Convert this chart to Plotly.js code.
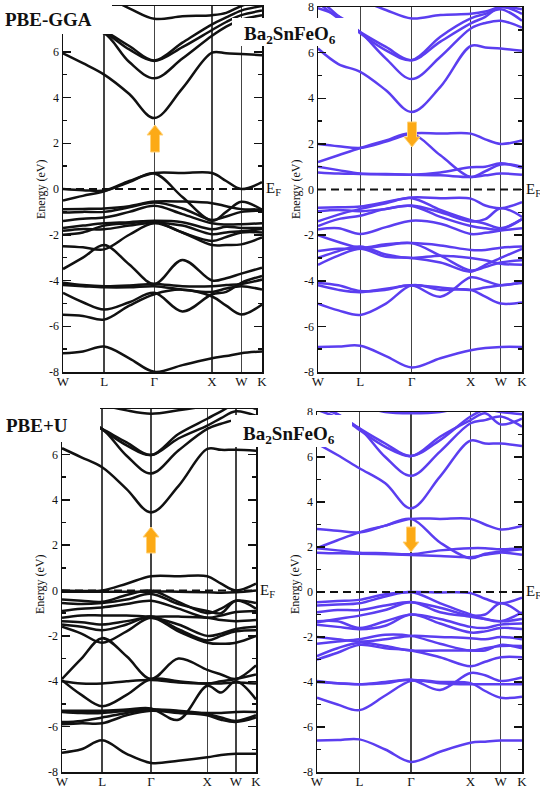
<!DOCTYPE html>
<html>
<head>
<meta charset="utf-8">
<script src="https://cdn.plot.ly/plotly-3.0.1.min.js"></script>
<style>
html,body{margin:0;padding:0;background:#fff;}
#chart{width:540px;height:789px;}
</style>
</head>
<body>
<div id="chart"></div>
<script>
// ---------------- DATA ----------------
const kLabels = ['W', 'L', 'Γ', 'X', 'W', 'K'];
const kTicks = [0, 0.207, 0.459, 0.749, 0.896, 1.0];
// k-points at which band energies were read: W, mid, L, mid, Γ, mid, X, mid, W, K
const kPath = [0, 0.10, 0.207, 0.333, 0.459, 0.60, 0.749, 0.82, 0.896, 1.0];
const energyTicks = [-8, -6, -4, -2, 0, 2, 4, 6, 8];
const energyTickText = ['-8', '-6', '-4', '-2', '0', '2', '4', '6', '8'];
const minorTicks = [-7, -5, -3, -1, 1, 3, 5, 7];

// PBE-GGA, spin up (black)
const ggaUp = [
  [5.93, 5.5, 5.0, 4.15, 3.1, 4.4, 5.96, 5.93, 5.9, 5.85],
  [6.9, 6.88, 6.8, 5.55, 4.84, 5.7, 6.7, 7.1, 7.4, 7.6],
  [7.4, 7.1, 6.85, 6.1, 5.6, 6.2, 6.95, 7.3, 7.6, 7.8],
  [7.5, 7.2, 6.9, 6.25, 5.62, 6.4, 7.2, 7.5, 7.8, 8.0],
  [8.6, 8.5, 8.4, 7.9, 7.44, 7.55, 7.6, 7.7, 8.0, 8.3],
  [0.0, -0.05, -0.07, 0.35, 0.70, 0.70, 0.70, 0.35, 0.0, 0.3],
  [-0.5, -0.3, -0.1, 0.3, 0.68, -0.35, -1.39, -1.0, -0.56, -0.9],
  [-0.88, -0.87, -0.85, -0.75, -0.55, -0.55, -0.62, -0.75, -0.88, -0.88],
  [-1.03, -1.0, -1.0, -0.8, -0.59, -0.85, -1.35, -1.2, -1.0, -0.95],
  [-1.4, -1.3, -1.25, -1.0, -0.73, -1.1, -1.5, -1.55, -1.54, -1.5],
  [-1.7, -1.6, -1.5, -1.45, -1.39, -1.45, -1.76, -1.65, -1.7, -1.7],
  [-1.83, -1.75, -1.76, -1.6, -1.47, -1.6, -1.98, -1.9, -1.85, -1.75],
  [-2.0, -1.9, -1.6, -1.5, -1.42, -1.9, -2.27, -2.1, -1.9, -1.9],
  [-2.5, -2.55, -2.64, -2.0, -1.5, -1.9, -2.45, -2.45, -2.42, -2.12],
  [-3.5, -3.0, -2.45, -3.3, -4.15, -3.1, -4.0, -3.9, -3.7, -3.44],
  [-4.1, -4.2, -4.25, -4.22, -4.15, -4.25, -4.25, -4.2, -4.15, -3.96],
  [-4.2, -4.25, -4.3, -4.3, -4.25, -4.4, -4.5, -4.35, -4.25, -4.4],
  [-4.54, -4.95, -5.27, -4.95, -4.54, -5.35, -4.6, -4.5, -4.1, -3.8],
  [-5.5, -5.55, -5.71, -5.1, -4.6, -4.4, -4.7, -5.1, -5.49, -5.05],
  [-7.18, -7.1, -6.89, -7.4, -7.99, -7.7, -7.4, -7.3, -7.18, -7.1]
];

// PBE-GGA, spin down (purple)
const ggaDown = [
  [6.18, 5.5, 5.16, 4.35, 3.4, 4.5, 6.29, 6.23, 6.18, 6.08],
  [7.95, 7.6, 6.9, 5.74, 4.84, 5.82, 7.06, 7.3, 7.4, 7.1],
  [8.2, 7.5, 6.9, 6.25, 5.67, 6.48, 7.28, 7.57, 8.0, 7.7],
  [8.4, 7.6, 6.85, 6.1, 5.67, 6.7, 7.5, 7.7, 7.9, 7.4],
  [8.8, 8.6, 8.3, 7.87, 7.5, 7.65, 7.7, 7.8, 8.0, 7.9],
  [2.0, 1.9, 1.82, 2.1, 2.45, 2.45, 2.45, 2.2, 2.0, 2.15],
  [1.2, 1.5, 1.82, 2.15, 2.45, 1.5, 0.55, 0.8, 1.1, 1.0],
  [1.0, 0.85, 0.7, 0.68, 0.65, 0.75, 0.98, 1.0, 1.15, 0.95],
  [0.75, 0.7, 0.68, 0.66, 0.65, 0.62, 0.55, 0.62, 0.7, 0.65],
  [-0.8, -0.78, -0.75, -0.55, -0.35, -0.38, -0.4, -0.7, -0.82, -0.55],
  [-1.4, -1.1, -0.85, -0.6, -0.38, -0.9, -1.35, -1.5, -1.7, -1.3],
  [-0.95, -0.9, -0.95, -0.85, -0.7, -1.0, -1.4, -1.3, -0.82, -1.2],
  [-1.6, -1.3, -1.15, -0.85, -0.72, -1.2, -1.6, -1.7, -1.75, -1.3],
  [-1.75, -1.7, -1.95, -1.65, -1.37, -1.5, -1.95, -1.9, -1.8, -1.7],
  [-2.0, -2.3, -2.55, -2.4, -2.35, -2.45, -2.65, -2.65, -2.55, -2.5],
  [-2.7, -2.6, -2.6, -2.45, -2.35, -2.9, -3.55, -3.4, -3.2, -3.1],
  [-3.0, -2.7, -2.5, -2.85, -3.0, -2.9, -3.0, -3.1, -3.25, -3.3],
  [-3.3, -2.9, -2.6, -2.95, -3.0, -3.2, -3.6, -3.3, -3.0, -2.6],
  [-4.2, -4.4, -4.5, -4.35, -4.2, -4.3, -4.4, -4.3, -4.2, -4.1],
  [-4.1, -4.2, -4.45, -4.4, -4.2, -4.7, -3.85, -4.0, -4.2, -4.05],
  [-5.0, -5.3, -5.5, -5.0, -4.2, -4.4, -4.4, -4.7, -5.0, -4.95],
  [-6.9, -6.88, -6.85, -7.3, -7.8, -7.4, -7.05, -6.95, -6.9, -6.9]
];

// PBE+U, spin up (black)
const uUp = [
  [6.27, 5.87, 5.43, 4.47, 3.44, 4.6, 6.24, 6.2, 6.2, 6.16],
  [7.8, 7.5, 7.12, 5.94, 5.16, 6.17, 7.12, 7.35, 7.5, 7.3],
  [8.1, 7.6, 7.12, 6.53, 5.97, 6.9, 7.57, 7.9, 8.2, 8.0],
  [8.2, 7.7, 7.1, 6.4, 5.97, 6.7, 7.27, 7.6, 7.9, 7.7],
  [8.8, 8.6, 8.2, 7.94, 7.79, 7.94, 8.15, 8.3, 8.5, 8.4],
  [0.0, -0.02, 0.0, 0.3, 0.63, 0.63, 0.63, 0.3, 0.0, 0.3],
  [-0.05, -0.05, -0.05, -0.05, -0.05, -0.05, -0.08, -0.1, -0.08, 0.0],
  [-0.4, -0.45, -0.5, -0.2, 0.0, -0.5, -1.0, -0.8, -0.45, -0.55],
  [-0.55, -0.6, -0.55, -0.4, -0.15, -0.6, -0.9, -1.0, -0.45, -0.8],
  [-0.9, -0.8, -0.75, -0.6, -0.45, -0.8, -1.2, -1.1, -0.95, -0.9],
  [-1.2, -1.1, -1.1, -1.1, -1.15, -1.15, -1.2, -1.3, -1.35, -1.3],
  [-1.35, -1.4, -1.5, -1.35, -1.2, -1.5, -2.0, -1.9, -1.7, -1.6],
  [-1.5, -1.6, -1.75, -1.5, -1.15, -1.7, -2.2, -2.0, -1.8, -1.75],
  [-1.6, -1.9, -2.3, -1.8, -1.2, -1.8, -2.3, -2.35, -2.3, -2.0],
  [-3.9, -3.0, -2.1, -2.9, -3.9, -3.0, -3.5, -3.7, -3.9, -3.3],
  [-3.95, -4.6, -5.1, -4.6, -3.9, -4.0, -4.1, -4.0, -3.9, -3.7],
  [-4.0, -4.1, -4.1, -4.0, -3.95, -4.05, -4.1, -4.1, -4.05, -4.1],
  [-5.3, -5.3, -5.3, -5.25, -5.2, -5.7, -4.2, -4.5, -4.0, -4.8],
  [-5.35, -5.4, -5.4, -5.3, -5.25, -5.35, -5.4, -5.4, -5.35, -5.35],
  [-5.8, -5.75, -5.6, -5.4, -5.25, -5.3, -5.45, -5.6, -5.75, -5.5],
  [-5.9, -5.85, -5.85, -5.5, -5.3, -5.4, -5.5, -5.7, -5.8, -5.6],
  [-7.15, -7.0, -6.6, -7.2, -7.6, -7.5, -7.35, -7.25, -7.2, -7.2]
];

// PBE+U, spin down (purple)
const uDown = [
  [6.6, 6.09, 5.5, 4.83, 3.72, 5.13, 6.73, 6.6, 6.6, 6.49],
  [8.1, 7.75, 7.27, 6.0, 5.17, 6.24, 7.5, 7.64, 7.8, 7.35],
  [8.2, 7.9, 7.27, 6.6, 6.04, 6.9, 7.64, 7.94, 7.45, 7.7],
  [8.4, 7.9, 7.2, 6.45, 6.04, 6.75, 7.8, 8.1, 8.0, 7.9],
  [9.0, 8.6, 8.3, 8.0, 7.94, 8.0, 8.3, 8.4, 8.5, 8.4],
  [2.8, 2.72, 2.65, 2.95, 3.25, 3.25, 3.25, 3.0, 2.78, 2.93],
  [1.95, 2.3, 2.65, 2.95, 3.25, 2.2, 1.5, 1.7, 1.8, 1.9],
  [1.95, 1.85, 1.75, 1.72, 1.68, 1.85, 1.95, 1.95, 1.9, 1.95],
  [1.75, 1.72, 1.7, 1.68, 1.65, 1.6, 1.55, 1.65, 1.75, 1.65],
  [-0.45, -0.4, -0.35, -0.1, 0.0, -0.02, -0.05, -0.3, -0.5, -0.25],
  [-0.6, -0.55, -0.5, -0.2, 0.0, -0.5, -1.0, -1.2, -1.3, -0.9],
  [-0.9, -0.8, -0.8, -0.6, -0.45, -0.7, -1.05, -1.0, -0.5, -1.0],
  [-1.35, -1.2, -1.05, -0.8, -0.45, -0.9, -1.1, -1.2, -1.3, -1.2],
  [-1.3, -1.3, -1.6, -1.3, -1.0, -1.2, -1.55, -1.6, -1.45, -1.4],
  [-1.45, -1.55, -1.65, -1.5, -1.0, -1.4, -1.8, -1.75, -1.6, -1.65],
  [-2.0, -2.1, -2.2, -2.1, -1.95, -2.0, -2.05, -2.1, -2.0, -2.1],
  [-2.3, -2.2, -2.1, -1.9, -1.95, -2.3, -2.6, -2.5, -2.4, -2.4],
  [-2.85, -2.5, -2.25, -2.4, -2.6, -2.6, -2.6, -2.6, -2.35, -2.5],
  [-3.0, -2.7, -2.35, -2.5, -2.6, -2.9, -3.3, -3.1, -2.9, -2.9],
  [-4.0, -4.05, -4.1, -4.0, -3.9, -4.05, -4.1, -4.1, -4.1, -4.1],
  [-3.95, -4.05, -4.1, -4.05, -3.9, -4.35, -3.6, -3.7, -3.95, -3.8],
  [-4.7, -5.0, -5.25, -4.6, -3.95, -4.0, -4.05, -4.4, -4.7, -4.65],
  [-6.6, -6.58, -6.55, -7.0, -7.55, -7.1, -6.7, -6.65, -6.6, -6.6]
];

// ---------------- LAYOUT HELPERS ----------------
const W = 540, H = 789;
const fx = p => p / W;
const fy = p => 1 - p / H;
const SERIF = 'Liberation Serif, Times New Roman, serif';
const BLACK = '#111111';
const PURPLE = '#5b3ef0';

const panels = [
  {bands: ggaUp,   color: BLACK,  xa: 'x',  ya: 'y',  box: [63, 262, 6, 372]},
  {bands: ggaDown, color: PURPLE, xa: 'x2', ya: 'y2', box: [318, 522, 7, 372]},
  {bands: uUp,     color: BLACK,  xa: 'x3', ya: 'y3', box: [62, 256, 409, 772]},
  {bands: uDown,   color: PURPLE, xa: 'x4', ya: 'y4', box: [317, 522, 412, 772]}
];

const traces = [];
panels.forEach(p => {
  p.bands.forEach(b => {
    traces.push({
      x: kPath, y: b, xaxis: p.xa, yaxis: p.ya,
      type: 'scatter', mode: 'lines',
      line: {color: p.color, width: 2.5, shape: 'spline', smoothing: 1},
      hoverinfo: 'skip', showlegend: false
    });
  });
});

const layout = {
  width: W, height: H,
  margin: {l: 0, r: 0, t: 0, b: 0},
  paper_bgcolor: '#fff', plot_bgcolor: '#fff',
  showlegend: false, hovermode: false,
  font: {family: SERIF, color: '#111', size: 12},
  shapes: [], annotations: []
};

panels.forEach((p, i) => {
  const n = i === 0 ? '' : String(i + 1);
  const [x0, x1, yt, yb] = p.box;
  layout['xaxis' + n] = {
    domain: [fx(x0), fx(x1)], range: [0, 1], anchor: p.ya,
    tickmode: 'array', tickvals: kTicks, ticktext: kLabels,
    ticks: '', showgrid: true, gridcolor: '#444', gridwidth: 1.4,
    zeroline: false, showline: true, linecolor: '#111', linewidth: 1.5,
    mirror: true, ticklabelstandoff: -3,
    tickfont: {family: SERIF, size: 13, color: '#111'}, fixedrange: true
  };
  layout['yaxis' + n] = {
    domain: [fy(yb), fy(yt)], range: [-8, 8], anchor: p.xa,
    tickmode: 'array', tickvals: energyTicks, ticktext: energyTickText,
    ticks: 'inside', ticklen: 8, tickwidth: 1.5, tickcolor: '#111',
    minor: {tickmode: 'array', tickvals: minorTicks, ticks: 'inside', ticklen: 4, tickwidth: 1.5, tickcolor: '#111'},
    showgrid: false, zeroline: false, showline: true, linecolor: '#111', linewidth: 1.5,
    mirror: 'ticks', tickfont: {family: SERIF, size: 12, color: '#111'}, fixedrange: true
  };
  // Fermi level dashed line
  layout.shapes.push({
    type: 'line', xref: p.xa, yref: p.ya, x0: 0, x1: 1, y0: 0, y1: 0,
    line: {color: '#111', width: 2, dash: '8px,5px'}, layer: 'above'
  });
  // E_F label
  layout.annotations.push({
    xref: 'paper', yref: p.ya, x: fx(x1 + 2), y: 0, xanchor: 'left', yanchor: 'middle',
    text: 'E<sub>F</sub>', showarrow: false, font: {family: SERIF, size: 15, color: '#111'}
  });
  // y title
  layout.annotations.push({
    xref: 'paper', yref: 'paper', x: fx(x0 - 22), y: fy(i < 2 ? 190 : 585),
    xanchor: 'center', yanchor: 'middle', textangle: -90,
    text: 'Energy (eV)', showarrow: false, font: {family: SERIF, size: 12, color: '#111'}
  });
});

// white label boxes covering the top-left of the panels
const boxes = [[0, 112, 0, 34], [232, 358, 18, 46], [0, 100, 398, 442], [231, 352, 415, 447]];
boxes.forEach(b => layout.shapes.push({
  type: 'rect', xref: 'paper', yref: 'paper', x0: fx(b[0]), x1: fx(b[1]), y0: fy(b[3]), y1: fy(b[2]),
  fillcolor: '#fff', line: {width: 0}, layer: 'above'
}));

// orange spin arrows (up = spin up panel, down = spin down panel)
function arrowPath(cx, yTip, yTail) {
  const dir = yTail > yTip ? 1 : -1;
  const headLen = 10 * dir, hw = 8, sw = 4.5;
  const pts = [
    [cx, yTip], [cx + hw, yTip + headLen], [cx + sw, yTip + headLen], [cx + sw, yTail],
    [cx - sw, yTail], [cx - sw, yTip + headLen], [cx - hw, yTip + headLen]
  ];
  return 'M ' + pts.map(q => fx(q[0]) + ',' + fy(q[1])).join(' L ') + ' Z';
}
[[155, 125, 152], [412, 147, 122], [151, 527, 553], [411, 552, 527]].forEach(a => layout.shapes.push({
  type: 'path', xref: 'paper', yref: 'paper', path: arrowPath(a[0], a[1], a[2]),
  fillcolor: '#fcaa16', line: {color: '#ffd27a', width: 1}, layer: 'above'
}));

// panel labels
layout.annotations.push(
  {xref: 'paper', yref: 'paper', x: fx(3), y: fy(20), xanchor: 'left', yanchor: 'middle', showarrow: false,
   text: 'PBE-GGA', font: {family: SERIF, size: 19, color: '#111', weight: 'bold'}},
  {xref: 'paper', yref: 'paper', x: fx(242), y: fy(35), xanchor: 'left', yanchor: 'middle', showarrow: false,
   text: 'Ba<sub>2</sub>SnFeO<sub>6</sub>', font: {family: SERIF, size: 19, color: '#111', weight: 'bold'}},
  {xref: 'paper', yref: 'paper', x: fx(4), y: fy(425), xanchor: 'left', yanchor: 'middle', showarrow: false,
   text: 'PBE+U', font: {family: SERIF, size: 19, color: '#111', weight: 'bold'}},
  {xref: 'paper', yref: 'paper', x: fx(241), y: fy(435), xanchor: 'left', yanchor: 'middle', showarrow: false,
   text: 'Ba<sub>2</sub>SnFeO<sub>6</sub>', font: {family: SERIF, size: 19, color: '#111', weight: 'bold'}}
);

Plotly.newPlot('chart', traces, layout, {staticPlot: true, displayModeBar: false});
</script>
</body>
</html>
